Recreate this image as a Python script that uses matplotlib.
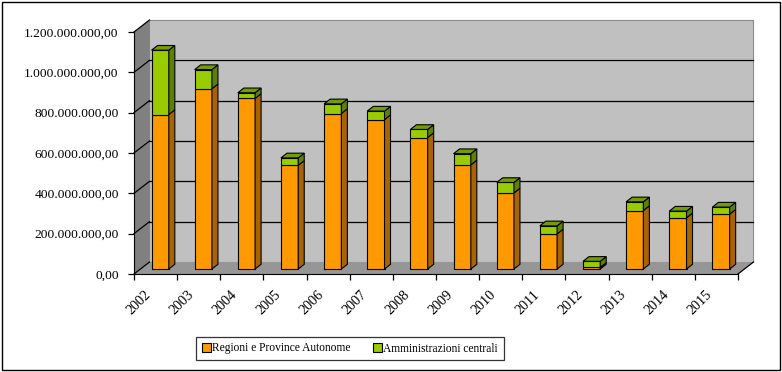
import matplotlib
matplotlib.use("Agg")
import matplotlib.pyplot as plt
import numpy as np
from matplotlib.patches import Polygon, Rectangle, Patch
from matplotlib.lines import Line2D
from matplotlib.ticker import FuncFormatter
from matplotlib.transforms import ScaledTranslation

# dati (euro)
anni = ["2002", "2003", "2004", "2005", "2006", "2007", "2008",
        "2009", "2010", "2011", "2012", "2013", "2014", "2015"]
regioni = [766e6, 894e6, 846e6, 514e6, 771e6, 741e6, 652e6,
           516e6, 377e6, 174e6, 8e6, 290e6, 254e6, 272e6]
centrali = [319e6, 95e6, 28e6, 37e6, 48e6, 42e6, 40e6,
            56e6, 52e6, 40e6, 30e6, 43e6, 33e6, 35e6]
serie = ["Regioni e Province Autonome", "Amministrazioni centrali"]

# colori
arancio = "#FF9900"
arancio_lato = "#A86400"
verde = "#99CC00"
verde_lato = "#5E8000"
verde_sopra = "#739C00"
parete = "#C0C0C0"
parete_sx = "#808080"
pavimento = "#969696"

plt.rcParams['font.family'] = ['Liberation Serif', 'DejaVu Serif']
plt.rcParams['font.size'] = 9.7

fig = plt.figure(figsize=(7.82, 3.72), dpi=100)
ax = fig.add_axes([134 / 782, 1 - 274 / 372, 604 / 782, 242 / 372])
ax.set_xlim(-0.5, 13.5)
ax.set_ylim(0, 1.2e9)
ax.patch.set_visible(False)

# conversione pixel -> dati
PX = 604 / 14
PY = 242 / 1.2e9


def off(px, py):
    return px / PX, py / PY


# pareti 3D
wx, wy = off(15.5, 12)
x0, x1 = -0.5, 13.5
ytop = 1.2e9
ax.add_patch(Polygon([(x0 + wx, wy), (x1 + wx, wy), (x1 + wx, ytop + wy), (x0 + wx, ytop + wy)],
                     closed=True, facecolor=parete, edgecolor="#8a8a8a", lw=0.8, clip_on=False, zorder=0))
ax.add_patch(Polygon([(x0, 0), (x0 + wx, wy), (x0 + wx, ytop + wy), (x0, ytop)],
                     closed=True, facecolor=parete_sx, edgecolor="none", clip_on=False, zorder=0))
ax.add_patch(Polygon([(x0, 0), (x1, 0), (x1 + wx, wy), (x0 + wx, wy)],
                     closed=True, facecolor=pavimento, edgecolor="none", clip_on=False, zorder=0))
ax.add_line(Line2D([x1, x1 + wx], [0, wy], color="black", lw=0.9, clip_on=False, zorder=1))

# griglia
for v in np.arange(0, 1.2e9 + 1, 2e8):
    ax.add_line(Line2D([x0, x0 + wx], [v, v + wy], color="black", lw=0.9, clip_on=False, zorder=1))
    if 0 < v < 1.2e9:
        ax.add_line(Line2D([x0 + wx, x1 + wx], [v + wy, v + wy], color="black", lw=0.9,
                           clip_on=False, zorder=1))

# barre
x = np.arange(len(anni))
w = 0.4
bx, by = off(4.6, 5)
dx, dy = off(6, 4.7)
reg = np.array(regioni)
cen = np.array(centrali)

ax.bar(x + bx, reg, width=w, bottom=by, color=arancio, edgecolor="black", lw=0.8, zorder=3)
ax.bar(x + bx, cen, width=w, bottom=by + reg, color=verde, edgecolor="black", lw=0.8, zorder=3)

for i in range(len(x)):
    xr = x[i] + bx + w / 2
    xl = x[i] + bx - w / 2
    y0 = by
    y1 = by + reg[i]
    y2 = y1 + cen[i]
    for (a, b, c) in [(y0, y1, arancio_lato), (y1, y2, verde_lato)]:
        ax.add_patch(Polygon([(xr, a), (xr + dx, a + dy), (xr + dx, b + dy), (xr, b)],
                             closed=True, facecolor=c, edgecolor="black", lw=0.8, zorder=3))
    ax.add_patch(Polygon([(xl, y2), (xr, y2), (xr + dx, y2 + dy), (xl + dx, y2 + dy)],
                         closed=True, facecolor=verde_sopra, edgecolor="black", lw=0.8, zorder=3))

# assi
for s in ["top", "right"]:
    ax.spines[s].set_visible(False)
ax.spines["left"].set_color("black")
ax.spines["bottom"].set_color("black")
ax.spines["left"].set_zorder(2)
ax.spines["bottom"].set_zorder(2)

ax.set_yticks(np.arange(0, 1.2e9 + 1, 2e8))


def fmt(v, pos):
    s = f"{v:,.2f}"
    return s.replace(",", "X").replace(".", ",").replace("X", ".")


ax.yaxis.set_major_formatter(FuncFormatter(fmt))
ax.tick_params(axis="y", length=4, width=0.9, direction="out", pad=7, colors="black")

ax.set_xticks(x)
ax.set_xticklabels(anni, rotation=45, ha="right", va="top", fontsize=10.2)
ax.set_xticks(np.arange(-0.5, 13.6, 1), minor=True)
ax.tick_params(axis="x", which="major", length=0, pad=10)
ax.tick_params(axis="x", which="minor", length=4, width=0.9, direction="out")
for lbl in ax.get_xticklabels():
    lbl.set_transform(lbl.get_transform() + ScaledTranslation(-2 / 100, 0, fig.dpi_scale_trans))

# legenda
handles = [Patch(facecolor=arancio, edgecolor="black", lw=0.8),
           Patch(facecolor=verde, edgecolor="black", lw=0.8)]
leg = fig.legend(handles, serie, loc="center", bbox_to_anchor=(350 / 782, 1 - 348.5 / 372),
                 ncol=2, frameon=True, fancybox=False, handlelength=0.75, handleheight=0.75,
                 handletextpad=0.1, columnspacing=2.0, borderpad=0.5, borderaxespad=0,
                 fontsize=8.3)
leg.get_frame().set_edgecolor("black")
leg.get_frame().set_linewidth(0.9)

# cornice esterna
fig.patches.append(Rectangle((1.5 / 782, 1 - 369.5 / 372), 778.5 / 782, 368 / 372,
                             transform=fig.transFigure, fill=False, edgecolor="black", lw=1))

fig.savefig("out.png", dpi=100)
